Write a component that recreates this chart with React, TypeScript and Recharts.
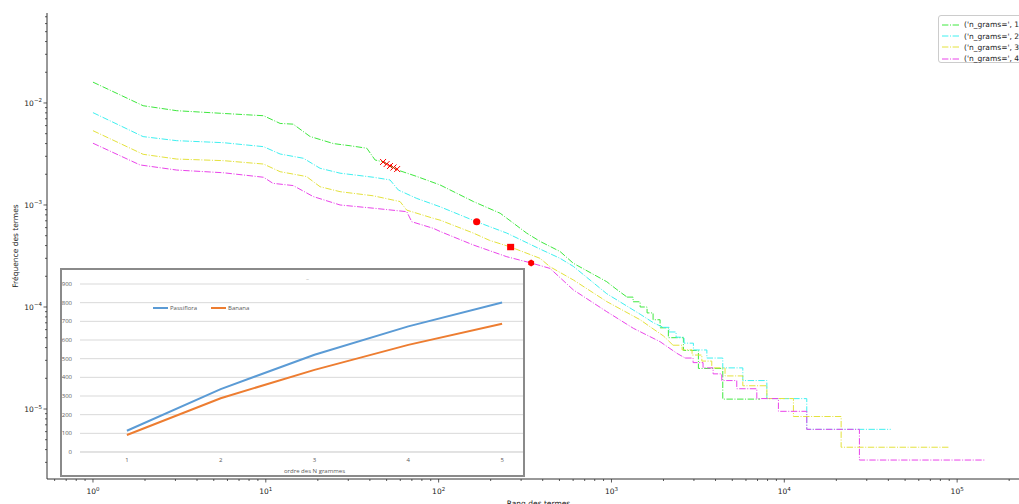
import React from "react";
import { ComposedChart, LineChart, Line, Scatter, XAxis, YAxis, CartesianGrid } from "recharts";

const FONT = "'DejaVu Sans', sans-serif";
const INSET_FONT = "'Open Sans', 'Liberation Sans', sans-serif";

// rank / frequency curves, one per n-gram order: [rank, frequency]
const seriesNames = ["('n_grams=', 1)", "('n_grams=', 2)", "('n_grams=', 3)", "('n_grams=', 4)"];
const seriesColors = ["#3ee83e", "#3ef0f0", "#e4e23c", "#ea44ea"];

// smooth head of each curve
const head1: [number, number][] = [
  [1, 0.016], [1.95, 0.0094], [3.05, 0.0084], [5.65, 0.0079], [9.7, 0.0075], [12.1, 0.0063],
  [14.4, 0.0062], [18, 0.0047], [24.6, 0.004], [31, 0.0038], [38.4, 0.0036], [42.9, 0.00276],
  [48, 0.00264], [58, 0.0022], [75, 0.0019], [102, 0.00157], [159, 0.00108], [227, 0.00083],
  [323, 0.00053], [386, 0.00044], [504, 0.00035], [602, 0.000268], [939, 0.000177],
  [1064, 0.00015], [1231, 0.000125],
];
const head2: [number, number][] = [
  [1, 0.00804], [1.95, 0.00468], [3.05, 0.00427], [5.68, 0.00408], [9.7, 0.00373], [12.1, 0.00316],
  [16.5, 0.00287], [20.6, 0.00229], [26.9, 0.00205], [41.9, 0.00187], [52.3, 0.00176], [58.5, 0.0014],
  [74.7, 0.00116], [102, 0.00096], [166, 0.000685], [248, 0.00053], [386, 0.00037], [504, 0.0003],
  [602, 0.00025], [939, 0.000135], [1465, 8.5e-5], [1750, 7.0e-5], [1990, 6.32e-5],
];
const head3: [number, number][] = [
  [1, 0.00535], [1.95, 0.00314], [3.05, 0.00282], [5.68, 0.00272], [9.7, 0.00252], [12.1, 0.00212],
  [17.2, 0.0019], [20.6, 0.00151], [26.9, 0.00135], [41.9, 0.00123], [59.8, 0.00108], [65.4, 0.00089],
  [93.2, 0.00074], [102, 0.00071], [159, 0.00053], [197, 0.00045], [261, 0.000387], [386, 0.0003],
  [441, 0.000248], [602, 0.000184], [939, 0.000113], [1465, 7.5e-5], [1672, 6.4e-5], [2000, 5.2e-5],
  [2271, 4.22e-5],
];
const head4: [number, number][] = [
  [1, 0.00403], [1.87, 0.00247], [3.05, 0.0022], [5.68, 0.00207], [9.7, 0.00187], [11, 0.00163],
  [14.4, 0.00155], [18.8, 0.00121], [26.9, 0.001], [41.9, 0.00093], [65.4, 0.00086], [69.9, 0.000685],
  [93.2, 0.00059], [102, 0.00055], [159, 0.000405], [248, 0.000311], [343, 0.00027], [441, 0.000239],
  [602, 0.000147], [939, 9.0e-5], [1339, 6.18e-5], [1911, 4.57e-5], [2388, 3.52e-5], [2668, 3.16e-5],
];

// stepped tail (low counts): first rank of each frequency level, then last rank
const tail1: [number, number][] = [
  [1231, 1.25e-4], [1334, 1.125e-4], [1465, 1.0e-4], [1607, 8.75e-5], [1741, 7.5e-5], [1911, 6.25e-5],
  [2134, 5.0e-5], [2607, 3.75e-5], [3184, 2.5e-5], [4406, 1.25e-5], [7244, 1.25e-5],
];
const tail2: [number, number][] = [
  [1990, 6.32e-5], [2155, 5.69e-5], [2365, 5.06e-5], [2631, 4.42e-5], [2979, 3.79e-5], [3564, 3.16e-5],
  [4406, 2.53e-5], [5754, 1.9e-5], [7925, 1.264e-5], [13490, 6.32e-6], [41300, 6.32e-6],
];
const tail3: [number, number][] = [
  [2271, 4.22e-5], [2563, 3.8e-5], [2926, 3.38e-5], [3334, 2.95e-5], [3805, 2.53e-5], [4541, 2.11e-5],
  [5754, 1.69e-5], [7925, 1.266e-5], [11290, 8.44e-6], [21320, 4.22e-6], [89900, 4.22e-6],
];
const tail4: [number, number][] = [
  [2668, 3.16e-5], [2966, 2.85e-5], [3388, 2.53e-5], [3873, 2.21e-5], [4347, 1.9e-5], [5309, 1.58e-5],
  [6934, 1.265e-5], [9245, 9.49e-6], [13490, 6.32e-6], [27200, 3.16e-6], [145200, 3.16e-6],
];

// red markers on each curve
const marks1: [number, number][] = [[47.7, 0.00264], [50, 0.00252], [52.3, 0.00241], [54.8, 0.00233], [57.5, 0.00225]];
const marks2: [number, number][] = [[166, 0.000685]];
const marks3: [number, number][] = [[261, 0.000387]];
const marks4: [number, number][] = [[343, 0.00027]];

const heads = [head1, head2, head3, head4];
const tails = [tail1, tail2, tail3, tail4];

const X_DOMAIN: [number, number] = [0.542, 264000];
const Y_DOMAIN: [number, number] = [2.06e-6, 0.0762];
const xMajor = [1, 10, 100, 1000, 10000, 100000];
const yMajor = [1e-5, 1e-4, 1e-3, 1e-2];
const minorOf = (decades: number[]) => decades.flatMap((d) => [2, 3, 4, 5, 6, 7, 8, 9].map((k) => k * d));
const xTicks = [...xMajor, ...minorOf([0.1, ...xMajor])].filter((v) => v >= X_DOMAIN[0] && v <= X_DOMAIN[1]);
const yTicks = [...yMajor, ...minorOf([1e-6, ...yMajor])].filter((v) => v >= Y_DOMAIN[0] && v <= Y_DOMAIN[1]);

// inset chart (Excel screenshot)
const insetCats = [1, 2, 3, 4, 5];
const passiflora = [114, 337, 521, 673, 801];
const banana = [91, 288, 440, 574, 687];
const insetTicks = [0, 100, 200, 300, 400, 500, 600, 700, 800, 900];
const insetData = insetCats.map((n, i) => ({ n, passiflora: passiflora[i], banana: banana[i] }));

const pts = (a: [number, number][]) => a.map(([r, f]) => ({ r, f }));
const DASH = "6.4 1.6 1 1.6";
const AXIS = "#333";

const isMajor = (v: number) => Math.abs(Math.log10(v) - Math.round(Math.log10(v))) < 1e-6;
const expLabel = (v: number) => {
  const e = Math.round(Math.log10(v));
  return e < 0 ? `\u2212${-e}` : `${e}`;
};

function XTick(props: any) {
  const { x, y, payload } = props;
  const major = isMajor(payload.value);
  return (
    <g>
      <line x1={x} x2={x} y1={y} y2={y + (major ? 3.5 : 2)} stroke={AXIS} strokeWidth={0.8} />
      {major && (
        <text x={x} y={y + 15} textAnchor="middle" fontFamily={FONT} fontSize={7.5} fill="#222">
          10<tspan dy={-3.5} fontSize={5.5}>{expLabel(payload.value)}</tspan>
        </text>
      )}
    </g>
  );
}

function YTick(props: any) {
  const { x, y, payload } = props;
  const major = isMajor(payload.value);
  return (
    <g>
      <line x1={x - (major ? 3.5 : 2)} x2={x} y1={y} y2={y} stroke={AXIS} strokeWidth={0.8} />
      {major && (
        <text x={x - 5} y={y + 3} textAnchor="end" fontFamily={FONT} fontSize={7.5} fill="#222">
          10<tspan dy={-3.5} fontSize={5.5}>{expLabel(payload.value)}</tspan>
        </text>
      )}
    </g>
  );
}

const cross = (p: any) => (
  <path d={`M${p.cx - 3},${p.cy - 3}L${p.cx + 3},${p.cy + 3}M${p.cx - 3},${p.cy + 3}L${p.cx + 3},${p.cy - 3}`}
    stroke="#ff0000" strokeWidth={1} fill="none" />
);
const circle = (p: any) => <circle cx={p.cx} cy={p.cy} r={3.6} fill="#ff0000" />;
const square = (p: any) => <rect x={p.cx - 3.5} y={p.cy - 3.2} width={7} height={6.4} fill="#ff0000" />;
const hexagon = (p: any) => {
  const r = 3.4;
  const d = [0, 1, 2, 3, 4, 5].map((i) => {
    const a = (Math.PI / 3) * i + Math.PI / 6;
    return `${p.cx + r * Math.cos(a)},${p.cy + r * Math.sin(a)}`;
  });
  return <polygon points={d.join(" ")} fill="#ff0000" />;
};
const markSets: { data: [number, number][]; shape: (p: any) => React.ReactElement }[] = [
  { data: marks1, shape: cross },
  { data: marks2, shape: circle },
  { data: marks3, shape: square },
  { data: marks4, shape: hexagon },
];

function MainChart() {
  return (
    <ComposedChart width={1040} height={512} margin={{ top: 13, right: 10, bottom: 0, left: 0 }}>
      <XAxis dataKey="r" type="number" scale="log" domain={X_DOMAIN} allowDataOverflow ticks={xTicks}
        interval={0} tick={<XTick />} tickLine={false} tickSize={0} tickMargin={0} height={33} stroke={AXIS}
        label={(p: any) => {
          const vb = p.viewBox;
          return (
            <text x={vb.x + vb.width / 2} y={vb.y + 27} textAnchor="middle" fontFamily={FONT} fontSize={7.5} fill="#222">
              Rang des termes
            </text>
          );
        }} />
      <XAxis xAxisId="top" orientation="top" type="number" scale="log" domain={X_DOMAIN} allowDataOverflow
        height={0} tick={false} tickLine={false} stroke={AXIS} />
      <YAxis dataKey="f" type="number" scale="log" domain={Y_DOMAIN} allowDataOverflow ticks={yTicks}
        interval={0} tick={<YTick />} tickLine={false} tickSize={0} tickMargin={0} width={47} stroke={AXIS}
        label={(p: any) => {
          const vb = p.viewBox;
          const cx = vb.x + 15;
          const cy = vb.y + vb.height / 2;
          return (
            <text x={cx} y={cy} transform={`rotate(-90 ${cx} ${cy})`} textAnchor="middle" dominantBaseline="central"
              fontFamily={FONT} fontSize={7.5} fill="#222">
              Fréquence des termes
            </text>
          );
        }} />
      {heads.map((h, i) => (
        <Line key={`h${i}`} data={pts(h)} dataKey="f" type="linear" stroke={seriesColors[i]} strokeWidth={1}
          strokeDasharray={DASH} dot={false} activeDot={false} isAnimationActive={false} />
      ))}
      {tails.map((t, i) => (
        <Line key={`t${i}`} data={pts(t)} dataKey="f" type="stepAfter" stroke={seriesColors[i]} strokeWidth={1}
          strokeDasharray={DASH} dot={false} activeDot={false} isAnimationActive={false} />
      ))}
      {markSets.map((m, i) => (
        <Scatter key={`m${i}`} data={pts(m.data)} dataKey="f" shape={m.shape} isAnimationActive={false} />
      ))}
    </ComposedChart>
  );
}

function InsetChart() {
  const tickStyle = { fontSize: 6, fill: "#595959", fontFamily: INSET_FONT };
  return (
    <div style={{
      position: "absolute", left: 60, top: 268, width: 465, height: 209, boxSizing: "border-box",
      border: "2px solid #8a8a8a", background: "#fff", overflow: "hidden",
    }}>
      <LineChart width={520} height={205} data={insetData} margin={{ top: 14, right: 33, bottom: 0, left: 0 }}>
        <CartesianGrid vertical={false} stroke="#d9d9d9" />
        <XAxis dataKey="n" type="number" domain={[0.5, 5.5]} ticks={insetCats} interval={0}
          axisLine={{ stroke: "#d9d9d9" }} tickLine={false} tickSize={4} tickMargin={2} height={23} tick={tickStyle}
          label={(p: any) => {
            const vb = p.viewBox;
            return (
              <text x={vb.x + vb.width / 2} y={vb.y + 21} textAnchor="middle" fontFamily={INSET_FONT} fontSize={6} fill="#595959">
                ordre des N grammes
              </text>
            );
          }} />
        <YAxis domain={[0, 900]} ticks={insetTicks} interval={0} axisLine={false} tickLine={false} width={18}
          tick={tickStyle} />
        <Line dataKey="passiflora" stroke="#5b9bd5" strokeWidth={2} dot={false} isAnimationActive={false} />
        <Line dataKey="banana" stroke="#ed7d31" strokeWidth={2} dot={false} isAnimationActive={false} />
      </LineChart>
      <div style={{ position: "absolute", left: 244, top: 5, fontSize: 6, color: "#aaa", fontFamily: INSET_FONT }}>–</div>
      <div style={{
        position: "absolute", left: 91, top: 34, display: "flex", alignItems: "center", fontFamily: INSET_FONT,
        fontSize: 6, color: "#595959", lineHeight: "8px",
      }}>
        <span style={{ display: "inline-block", width: 15, height: 2, background: "#5b9bd5", marginRight: 2 }} />
        <span style={{ marginRight: 14 }}>Passiflora</span>
        <span style={{ display: "inline-block", width: 15, height: 2, background: "#ed7d31", marginRight: 2 }} />
        <span>Banana</span>
      </div>
    </div>
  );
}

function MainLegend() {
  return (
    <div style={{
      position: "absolute", left: 938, top: 15, width: 100, height: 48, boxSizing: "border-box", paddingTop: 3,
      paddingLeft: 3, border: "1px solid #cccccc", borderRadius: 3, background: "rgba(255,255,255,0.8)",
      fontFamily: FONT, fontSize: 7.5, color: "#222",
    }}>
      {seriesNames.map((n, i) => (
        <div key={n} style={{ display: "flex", alignItems: "center", height: 11.4, whiteSpace: "nowrap" }}>
          <svg width={17} height={4} style={{ marginRight: 5 }}>
            <line x1={0} y1={2} x2={17} y2={2} stroke={seriesColors[i]} strokeWidth={1} strokeDasharray={DASH} />
          </svg>
          <span>{n}</span>
        </div>
      ))}
    </div>
  );
}

export default function App() {
  return (
    <div style={{ position: "absolute", left: 0, top: 0, width: 1019, height: 504, overflow: "hidden", background: "#fff" }}>
      <MainChart />
      <InsetChart />
      <MainLegend />
    </div>
  );
}
